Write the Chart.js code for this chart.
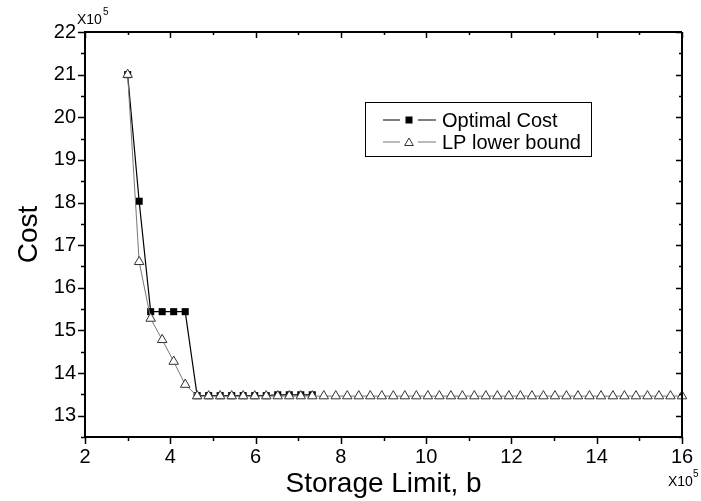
<!DOCTYPE html>
<html>
<head>
<meta charset="utf-8">
<script src="https://cdn.jsdelivr.net/npm/chart.js@4.4.0/dist/chart.umd.min.js"></script>
<style>
  html, body { margin: 0; padding: 0; background: #fff; }
  #wrap { width: 701px; height: 501px; }
</style>
</head>
<body>
<div id="wrap"><canvas id="costChart" width="701" height="501"></canvas></div>
<script>
// storage limit b, in units of 10^5
const storageLimit = [
  3.00, 3.27, 3.54, 3.81, 4.08, 4.35, 4.63, 4.90, 5.17, 5.44,
  5.71, 5.98, 6.25, 6.52, 6.79, 7.06, 7.33, 7.60, 7.88, 8.15,
  8.42, 8.69, 8.96, 9.23, 9.50, 9.77, 10.04, 10.31, 10.58, 10.85,
  11.13, 11.40, 11.67, 11.94, 12.21, 12.48, 12.75, 13.02, 13.29, 13.56,
  13.83, 14.10, 14.38, 14.65, 14.92, 15.19, 15.46, 15.73, 16.00
];
// cost, in units of 10^5
const optimalCost = [
  21.00, 18.03, 15.44, 15.44, 15.44, 15.44, 13.47, 13.47, 13.47, 13.47,
  13.47, 13.47, 13.47, 13.49, 13.49, 13.49, 13.49
];
const lpLowerBound = [
  21.00, 16.61, 15.28, 14.78, 14.27, 13.73, 13.46, 13.46, 13.46, 13.46,
  13.46, 13.46, 13.46, 13.46, 13.46, 13.46, 13.46, 13.46, 13.46, 13.46,
  13.46, 13.46, 13.46, 13.46, 13.46, 13.46, 13.46, 13.46, 13.46, 13.46,
  13.46, 13.46, 13.46, 13.46, 13.46, 13.46, 13.46, 13.46, 13.46, 13.46,
  13.46, 13.46, 13.46, 13.46, 13.46, 13.46, 13.46, 13.46, 13.46
];
const seriesNames = ['Optimal Cost', 'LP lower bound'];
const xTicks = [2, 4, 6, 8, 10, 12, 14, 16];
const yTicks = [13, 14, 15, 16, 17, 18, 19, 20, 21, 22];

const FONT = 'Arial, "Liberation Sans", sans-serif';

function toPoints(ys) {
  return ys.map((y, i) => ({ x: storageLimit[i], y: y }));
}

function drawSquare(c, x, y, half) {
  c.fillStyle = '#000';
  c.fillRect(x - half, y - half, half * 2, half * 2);
}

function drawTriangle(c, x, y, r) {
  c.beginPath();
  for (let i = 0; i < 3; i++) {
    const a = i * 2 * Math.PI / 3;
    const px = x + Math.sin(a) * r;
    const py = y - Math.cos(a) * r;
    if (i === 0) c.moveTo(px, py); else c.lineTo(px, py);
  }
  c.closePath();
  c.fillStyle = '#fff';
  c.fill();
  c.lineWidth = 1;
  c.strokeStyle = '#333';
  c.stroke();
}

// Origin style frame: ticks on all four sides, minor ticks between
const frameTicks = {
  id: 'frameTicks',
  afterDatasetsDraw(chart) {
    const c = chart.ctx;
    const a = chart.chartArea;
    const sx = chart.scales.x, sy = chart.scales.y;
    c.save();
    c.strokeStyle = '#000';
    c.lineWidth = 2;
    c.beginPath();
    c.moveTo(a.left, a.top); c.lineTo(a.right, a.top);
    c.moveTo(a.right, a.top); c.lineTo(a.right, a.bottom);
    c.stroke();
    c.lineWidth = 1.5;
    c.beginPath();
    for (let v = 2; v <= 16; v++) {
      const px = Math.round(sx.getPixelForValue(v)) + 0.5;
      const major = v % 2 === 0;
      c.moveTo(px, a.bottom); c.lineTo(px, a.bottom + (major ? 7 : 4));
      c.moveTo(px, a.top); c.lineTo(px, a.top + (major ? 6 : 3));
    }
    for (let v = 12.5; v <= 22; v += 0.5) {
      const py = Math.round(sy.getPixelForValue(v)) + 0.5;
      const major = Number.isInteger(v);
      c.moveTo(a.left, py); c.lineTo(a.left - (major ? 7 : 4), py);
      c.moveTo(a.right, py); c.lineTo(a.right - (major ? 6 : 3), py);
    }
    c.stroke();
    c.restore();
  }
};

const legendBox = {
  id: 'legendBox',
  afterDraw(chart) {
    const c = chart.ctx;
    c.save();
    c.font = '20px ' + FONT;
    const textW = Math.max(...seriesNames.map(s => c.measureText(s).width));
    const left = 365, top = 102, w = 442 - left + textW + 10, h = 54;
    c.fillStyle = '#fff';
    c.fillRect(left, top, w, h);
    c.strokeStyle = '#000';
    c.lineWidth = 1;
    c.strokeRect(left + 0.5, top + 0.5, w, h);
    const rows = [top + 18, top + 40];
    c.textBaseline = 'middle';
    c.textAlign = 'left';
    rows.forEach((y, i) => {
      c.beginPath();
      c.strokeStyle = i === 0 ? '#000' : '#777';
      c.lineWidth = 1.2;
      c.moveTo(383, y); c.lineTo(400, y);
      c.moveTo(418, y); c.lineTo(436, y);
      c.stroke();
      if (i === 0) drawSquare(c, 409, y, 3.5);
      else drawTriangle(c, 409, y + 1, 5);
      c.fillStyle = '#000';
      c.fillText(seriesNames[i], 442, y + 1);
    });
    c.restore();
  }
};

const exponentLabels = {
  id: 'exponentLabels',
  afterDraw(chart) {
    const c = chart.ctx;
    c.save();
    c.fillStyle = '#000';
    c.textBaseline = 'alphabetic';
    c.textAlign = 'left';
    c.font = '14px ' + FONT;
    c.fillText('X10', 77, 24);
    c.fillText('X10', 668, 486);
    c.font = '10px ' + FONT;
    c.fillText('5', 103, 15);
    c.fillText('5', 693, 477);
    c.restore();
  }
};

new Chart(document.getElementById('costChart'), {
  type: 'line',
  data: {
    datasets: [
      {
        label: seriesNames[0],
        data: toPoints(optimalCost),
        borderColor: '#000',
        borderWidth: 1.2,
        pointStyle: 'rect',
        pointRadius: 5,
        pointBackgroundColor: '#000',
        pointBorderColor: '#000',
        pointBorderWidth: 0,
        tension: 0,
        order: 1,
        clip: false
      },
      {
        label: seriesNames[1],
        data: toPoints(lpLowerBound),
        borderColor: '#777',
        borderWidth: 1,
        pointStyle: 'triangle',
        pointRadius: 5.5,
        pointBackgroundColor: '#fff',
        pointBorderColor: '#333',
        pointBorderWidth: 1,
        tension: 0,
        order: 0,
        clip: false
      }
    ]
  },
  options: {
    responsive: false,
    animation: false,
    devicePixelRatio: 1,
    layout: { padding: { top: 32, right: 19, left: 0, bottom: 0 } },
    plugins: {
      legend: { display: false },
      tooltip: { enabled: false }
    },
    scales: {
      x: {
        type: 'linear',
        min: 2,
        max: 16,
        afterFit: (s) => { s.height = 64; },
        afterBuildTicks: (s) => { s.ticks = xTicks.map(v => ({ value: v })); },
        ticks: { font: { family: FONT, size: 20 }, color: '#000', padding: 1, maxRotation: 0, autoSkip: false },
        grid: { drawOnChartArea: false, color: 'rgba(0,0,0,0)', tickLength: 7 },
        border: { color: '#000', width: 2 },
        title: {
          display: true,
          text: 'Storage Limit, b',
          font: { family: FONT, size: 28 },
          color: '#000',
          padding: { top: 0, bottom: 0 }
        }
      },
      y: {
        type: 'linear',
        min: 12.5,
        max: 22,
        afterFit: (s) => { s.width = 85; },
        afterBuildTicks: (s) => { s.ticks = yTicks.map(v => ({ value: v })); },
        ticks: { font: { family: FONT, size: 20 }, color: '#000', padding: 2, autoSkip: false },
        grid: { drawOnChartArea: false, color: 'rgba(0,0,0,0)', tickLength: 7 },
        border: { color: '#000', width: 2 },
        title: {
          display: true,
          text: 'Cost',
          font: { family: FONT, size: 28 },
          color: '#000',
          padding: { top: 12, bottom: 0 }
        }
      }
    }
  },
  plugins: [frameTicks, legendBox, exponentLabels]
});
</script>
</body>
</html>
